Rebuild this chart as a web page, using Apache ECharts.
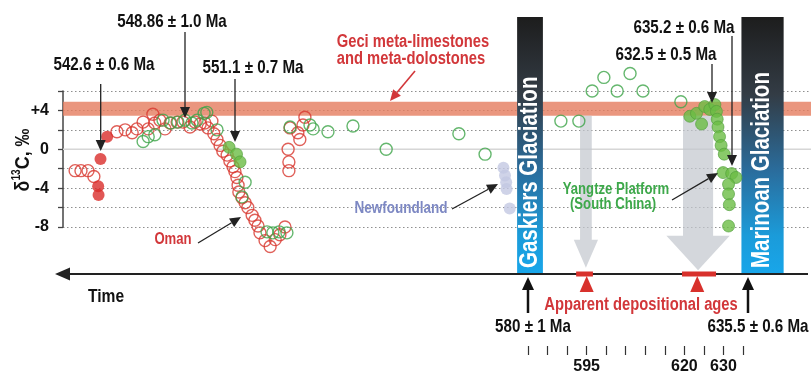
<!DOCTYPE html>
<html><head><meta charset="utf-8">
<script src="https://cdn.jsdelivr.net/npm/echarts@6/dist/echarts.min.js"></script>
<style>html,body{margin:0;padding:0;background:#fff}#c{width:811px;height:376px}</style>
</head><body><div id="c"></div>
<script>
// ---------- data: [age-position (Ma scale), d13C permil] ----------
const omanOpen = [
 [464.1,-2.2],[465.6,-2.2],[467.4,-2.2],[468.9,-2.8],
 [474.8,1.8],[476.9,2.0],[478.7,1.7],[479.9,2.1],[481.5,2.8],[482.8,2.1],[484.0,3.6],[484.5,2.7],
 [485.8,3.0],[487.1,2.1],[488.4,2.7],[490.2,2.8],[491.7,2.8],[493.5,2.3],[494.8,2.8],[496.1,2.6],
 [497.3,2.7],[498.1,2.2],[499.1,2.9],[499.6,1.6],[500.4,1.0],[501.2,0.4],[501.9,-0.2],[503.0,-0.6],
 [503.7,-1.2],[504.5,-1.8],[505.0,-2.3],[505.5,-2.9],[505.8,-3.7],[506.0,-4.4],[506.8,-5.0],[507.6,-5.5],
 [508.3,-6.0],[509.4,-6.8],[510.1,-7.3],[510.9,-7.9],[511.4,-8.6],[512.7,-9.4],[514.0,-10.0],[515.3,-9.3],
 [516.5,-8.8],[517.8,-8.0],
 [518.6,0.0],[518.8,-1.3],[518.8,-2.2],[519.1,2.2],[521.1,1.7],[521.6,1.0],[522.4,2.5],[522.9,3.3]
];
const omanFilled = [[470.0,-3.8],[470.1,-4.7],[470.6,-1.0],[472.3,1.3]];
const greenOpen = [
 [481.5,0.8],[482.8,1.3],[484.5,1.5],[486.6,3.0],[488.6,2.7],[490.4,2.8],[492.2,3.0],[494.0,2.7],
 [495.3,3.0],[497.1,3.7],[497.8,3.8],[500.4,2.0],[507.6,-3.4],[506.8,-4.9],
 [513.2,-8.5],[514.7,-8.6],[516.3,-8.5],[518.3,-8.6],
 [519.1,2.3],[524.2,2.5],[525.0,2.1],[528.8,1.8],[535.2,2.4],[543.7,0.0],[562.3,1.6],[569.0,-0.5],
 [588.4,2.9],[593.0,2.9],[596.4,6.0],[599.4,7.4],[602.8,6.0],[606.1,7.8],[609.4,6.0],[619.1,4.9]
];
const namaFilled = [[503.5,0.2],[505.4,-0.5],[506.3,-1.3]];
const yangtze = [
 [621.4,3.4],[623.1,3.7],[624.4,2.6],[625.2,4.4],[626.5,4.1],[627.8,4.6],[628.2,3.9],[628.4,3.1],
 [628.6,2.3],[629.0,1.3],[629.4,0.4],[630.2,-0.5],[629.9,-2.4],[632.1,-2.5],[633.2,-2.9],[631.3,-3.6],
 [631.3,-4.6],[631.5,-5.7],[631.3,-7.9]
];
const newfoundland = [[573.7,-1.9],[574.1,-2.7],[574.4,-3.4],[574.5,-4.1],[575.3,-6.1]];

// axis
const X_MIN = 461, X_MAX = 652.4;
const Y_MIN = -8, Y_MAX = 6, Y_STEP = 2;
const yLabels = [4, 0, -4, -8];
const ageTicksMin = 580, ageTicksMax = 635, ageTickStep = 5;
const ageTickLabels = [595, 620, 630];

// annotations (in data units)
const geciBand = [3.45, 4.9];
const glaciations = [
 {label:'Gaskiers Glaciation', from:577.2, to:583.8},
 {label:'Marinoan Glaciation', from:634.6, to:645.4}
];
const depositionalAges = [{from:592.3, to:596.6, mark:595}, {from:619.4, to:628.1, mark:623.3}];
const grayArrows = [
 {c:594.8, sw:1.5, hw:3.1, top:3.45, base:-9.3, tip:-12.2},
 {c:623.5, sw:3.85, hw:8.1, top:3.45, base:-8.9, tip:-12.45}
];

const FF = '"Liberation Sans", Arial, sans-serif';
const NARROW = '"Liberation Sans Narrow", "Liberation Sans", Arial, sans-serif';

function renderDecor(params, api){
  const P = (x,y)=>api.coord([x,y]);
  const ch = [];
  const b1 = P(X_MIN, geciBand[1]), b2 = P(X_MAX, geciBand[0]);
  ch.push({type:'rect', shape:{x:b1[0], y:b1[1], width:b2[0]-b1[0], height:b2[1]-b1[1]}, style:{fill:'rgba(229,124,94,0.8)'}});
  const z1 = P(X_MIN,0), z2 = P(X_MAX,0);
  ch.push({type:'line', shape:{x1:z1[0], y1:z1[1], x2:z2[0], y2:z2[1]}, style:{stroke:'#d6d6d6', lineWidth:1.5}});
  grayArrows.forEach(g=>{
    const pts = [[g.c-g.sw,g.top],[g.c+g.sw,g.top],[g.c+g.sw,g.base],[g.c+g.hw,g.base],[g.c,g.tip],[g.c-g.hw,g.base],[g.c-g.sw,g.base]].map(p=>P(p[0],p[1]));
    ch.push({type:'polygon', shape:{points:pts}, style:{fill:'rgba(196,200,206,0.72)'}});
  });
  glaciations.forEach(g=>{
    const a = P(g.from, 13.62), b = P(g.to, -12.84);
    ch.push({type:'rect', shape:{x:a[0], y:a[1], width:b[0]-a[0], height:b[1]-a[1]},
      style:{fill:new echarts.graphic.LinearGradient(0,0,0,1,[
        {offset:0,color:'#1d1d1d'},{offset:0.3,color:'#333c45'},{offset:0.6,color:'#2a6d9d'},{offset:0.85,color:'#1b9bd9'},{offset:1,color:'#18a6ea'}])}});
    ch.push({type:'text', x:(a[0]+b[0])/2, y:b[1]-6, rotation:Math.PI/2, scaleX:0.82,
      style:{text:g.label, fill:'#fff', font:'bold 25px '+FF, align:'left', verticalAlign:'middle'}});
  });
  // time axis
  ch.push({type:'line', shape:{x1:66, y1:274, x2:808, y2:274}, style:{stroke:'#222', lineWidth:2.2}});
  ch.push({type:'polygon', shape:{points:[[55,274],[70,267.5],[70,280.5]]}, style:{fill:'#222'}});
  depositionalAges.forEach(d=>{
    const a = P(d.from,0), b = P(d.to,0), m = P(d.mark,0);
    ch.push({type:'rect', shape:{x:a[0], y:271.5, width:b[0]-a[0], height:5}, style:{fill:'#d8312c'}});
    ch.push({type:'polygon', shape:{points:[[m[0],276],[m[0]-7,292],[m[0]+7,292]]}, style:{fill:'#d8312c'}});
  });
  return {type:'group', children:ch};
}

function txt(text,x,y,size,color,extra){
  return Object.assign({type:'text', x, y, scaleX:0.82, z:100,
    style:{text, font:'bold '+size+'px '+FF, fill:color, align:'center', verticalAlign:'middle'}}, extra||{});
}
function arrow(x1,y1,x2,y2,color,lw,hl,hw){
  lw=lw||1.3; hl=hl||11; hw=hw||5;
  const dx=x2-x1, dy=y2-y1, L=Math.hypot(dx,dy), ux=dx/L, uy=dy/L;
  const bx=x2-ux*hl, by=y2-uy*hl, px=-uy, py=ux;
  return [
    {type:'line', z:100, shape:{x1, y1, x2:bx, y2:by}, style:{stroke:color, lineWidth:lw}},
    {type:'polygon', z:100, shape:{points:[[x2,y2],[bx+px*hw,by+py*hw],[bx-px*hw,by-py*hw]]}, style:{fill:color}}
  ];
}
const BLK='#222', RED='#d2373a';
const graphics = [
  txt('542.6 ± 0.6 Ma',104,65,18.5,'#111'),
  txt('548.86 ± 1.0 Ma',172,22,18.5,'#111'),
  txt('551.1 ± 0.7 Ma',253,68,18.5,'#111'),
  txt('635.2 ± 0.6 Ma',684,28,18.5,'#111'),
  txt('632.5 ± 0.5 Ma',666,55,18.5,'#111'),
  txt('Geci meta-limestones',413,42,18,RED),
  txt('and meta-dolostones',411,59,18,RED),
  txt('Oman',173,240,16,RED),
  txt('Newfoundland',401,208,16.5,'#7d88c3'),
  txt('Yangtze Platform',616,190,16,'#3da84a'),
  txt('(South China)',613,205,16,'#3da84a'),
  txt('Time',106,297,19,'#111'),
  txt('Apparent depositional ages',641,305,18,RED),
  txt('580 ± 1 Ma',533,327,18.5,'#111'),
  txt('635.5 ± 0.6 Ma',758,327,18.5,'#111'),
  {type:'text', x:23, y:160, rotation:Math.PI/2, scaleX:0.85, z:100,
   style:{text:'{a|δ}{b|13}{a|C, ‰}', align:'center', verticalAlign:'middle',
     rich:{a:{font:'bold 21px '+FF, fill:'#111', lineHeight:24}, b:{font:'bold 12px '+FF, fill:'#111', lineHeight:24, verticalAlign:'top'}}}},
  ...arrow(100.7,84,100.7,151,BLK),
  ...arrow(185,32,185,118,BLK),
  ...arrow(235,79,235,142,BLK),
  ...arrow(712,64,712,103,BLK),
  ...arrow(732,36,732,166,BLK),
  ...arrow(415,71,390,101,RED,1.6,11,5),
  ...arrow(198,243,241,217,BLK),
  ...arrow(452,209,498,184,BLK),
  ...arrow(672,200,718,173,BLK),
  ...arrow(528,313,528,277,'#111',2.5,13,6),
  ...arrow(748,313,748,277,'#111',2.5,13,6)
];

const openStyle = c => ({color:'rgba(0,0,0,0)', borderColor:c, borderWidth:1.4});
const chart = echarts.init(document.getElementById('c'), null, {renderer:'canvas'});
chart.setOption({
  animation:false,
  grid:[
    {left:63, right:0, top:91, bottom:149, outerBoundsMode:'none'},
    {left:528, right:68, top:300, height:46, outerBoundsMode:'none'}
  ],
  xAxis:[
    {type:'value', gridIndex:0, min:X_MIN, max:X_MAX, show:false},
    {type:'value', gridIndex:1, min:ageTicksMin, max:ageTicksMax, interval:ageTickStep,
     axisLine:{show:false}, splitLine:{show:false},
     axisTick:{show:true, length:9, lineStyle:{color:'#333', width:1.2}},
     axisLabel:{margin:13, fontFamily:NARROW, fontWeight:'bold', fontSize:16, color:'#111',
       formatter:v=>ageTickLabels.includes(v)?String(v):''}}
  ],
  yAxis:[
    {type:'value', gridIndex:0, min:Y_MIN, max:Y_MAX, interval:Y_STEP,
     axisLine:{show:true, lineStyle:{color:'#444', width:1.5}},
     axisTick:{show:true, length:5, lineStyle:{color:'#444', width:1.3}},
     axisLabel:{margin:14, fontFamily:NARROW, fontWeight:'bold', fontSize:16, color:'#111',
       formatter:v=>yLabels.includes(v)?(v>0?'+'+v:String(v)):''},
     splitLine:{show:true, lineStyle:{color:'#8f8f8f', type:[1.5,2.5], width:1.2}}},
    {type:'value', gridIndex:1, show:false}
  ],
  graphic:{elements:graphics},
  series:[
    {type:'custom', xAxisIndex:0, yAxisIndex:0, z:1, clip:false, silent:true, data:[[X_MIN,0]], renderItem:renderDecor},
    {type:'scatter', name:'Oman', z:3, clip:false, data:omanOpen, symbolSize:12, itemStyle:openStyle('#d8382f')},
    {type:'scatter', name:'Other open', z:3, clip:false, data:greenOpen, symbolSize:12, itemStyle:openStyle('#3fa54a')},
    {type:'scatter', name:'Oman dated', z:4, clip:false, data:omanFilled, symbolSize:12, itemStyle:{color:'#d92d2a'}},
    {type:'scatter', name:'Nama dated', z:4, clip:false, data:namaFilled, symbolSize:12, itemStyle:{color:'#6cbd45', borderColor:'#4f9d3b', borderWidth:0.8}},
    {type:'scatter', name:'Yangtze Platform', z:4, clip:false, data:yangtze, symbolSize:12, itemStyle:{color:'#6cbd45', borderColor:'#4f9d3b', borderWidth:0.8}},
    {type:'scatter', name:'Newfoundland', z:4, clip:false, data:newfoundland, symbolSize:12, itemStyle:{color:'#c3c8e2'}}
  ]
});
</script></body></html>
